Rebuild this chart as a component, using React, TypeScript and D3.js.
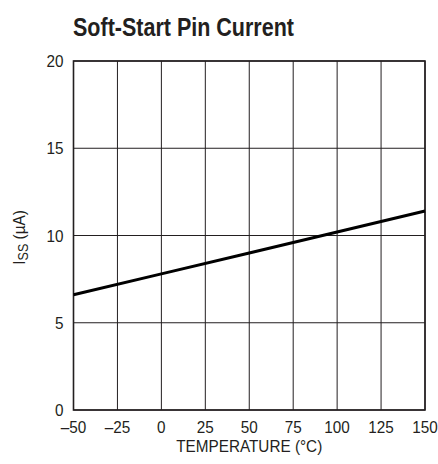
import * as d3 from 'd3';
import { useEffect, useRef } from 'react';

// Temperature (°C) vs soft-start pin current (µA)
const temperatures = [-50, 0, 50, 100, 150];
const currents = [6.6, 7.8, 9.0, 10.2, 11.4];

const xTicks = [-50, -25, 0, 25, 50, 75, 100, 125, 150];
const yTicks = [0, 5, 10, 15, 20];

const FONT = '"Liberation Sans", Arial, Helvetica, sans-serif';
const INK = '#231f20';
const SQUEEZE = 0.9; // mimic the condensed face of the original

export default function App() {
  const svgRef = useRef<SVGSVGElement>(null);

  useEffect(() => {
    if (!svgRef.current) return;
    const root = d3.select(svgRef.current);
    root.selectAll('*').remove();

    const margin = { top: 61, right: 13, bottom: 54, left: 73.5 };
    const width = 438 - margin.left - margin.right;
    const height = 464 - margin.top - margin.bottom;

    const x = d3.scaleLinear().domain([-50, 150]).range([0, width]);
    const y = d3.scaleLinear().domain([0, 20]).range([height, 0]);

    // Title
    root
      .append('text')
      .attr('x', 73)
      .attr('y', 36)
      .attr('textLength', 221)
      .attr('lengthAdjust', 'spacingAndGlyphs')
      .style('font-family', FONT)
      .style('font-weight', 'bold')
      .style('font-size', '26px')
      .attr('fill', INK)
      .text('Soft-Start Pin Current');

    const g = root.append('g').attr('transform', `translate(${margin.left},${margin.top})`);

    // Grid
    g.selectAll('.vgrid')
      .data(xTicks)
      .enter()
      .append('line')
      .attr('x1', (d) => x(d))
      .attr('x2', (d) => x(d))
      .attr('y1', 0)
      .attr('y2', height)
      .attr('stroke', INK)
      .attr('stroke-width', 1);

    g.selectAll('.hgrid')
      .data(yTicks)
      .enter()
      .append('line')
      .attr('x1', 0)
      .attr('x2', width)
      .attr('y1', (d) => y(d))
      .attr('y2', (d) => y(d))
      .attr('stroke', INK)
      .attr('stroke-width', 1);

    // Frame
    g.append('rect')
      .attr('width', width)
      .attr('height', height)
      .attr('fill', 'none')
      .attr('stroke', INK)
      .attr('stroke-width', 1.6);

    // X tick labels
    g.selectAll('.xlab')
      .data(xTicks)
      .enter()
      .append('text')
      .attr('transform', (d) => `translate(${x(d)},${height + 23}) scale(${SQUEEZE},1)`)
      .attr('text-anchor', 'middle')
      .style('font-family', FONT)
      .style('font-size', '17px')
      .attr('fill', INK)
      .text((d) => (d < 0 ? `\u2013${-d}` : `${d}`));

    // Y tick labels
    g.selectAll('.ylab')
      .data(yTicks)
      .enter()
      .append('text')
      .attr('transform', (d) => `translate(-10,${y(d) + 6}) scale(${SQUEEZE},1)`)
      .attr('text-anchor', 'end')
      .style('font-family', FONT)
      .style('font-size', '17px')
      .attr('fill', INK)
      .text((d) => `${d}`);

    // Axis titles
    g.append('text')
      .attr('transform', `translate(${width / 2},${height + 42}) scale(${SQUEEZE},1)`)
      .attr('text-anchor', 'middle')
      .style('font-family', FONT)
      .style('font-size', '17px')
      .attr('fill', INK)
      .text('TEMPERATURE (°C)');

    const yTitle = g
      .append('text')
      .attr('transform', `translate(-49,${height / 2 + 2}) rotate(-90) scale(${SQUEEZE},1)`)
      .attr('text-anchor', 'middle')
      .style('font-family', FONT)
      .style('font-size', '17px')
      .attr('fill', INK);
    yTitle.append('tspan').text('I');
    yTitle.append('tspan').attr('dy', 3).style('font-size', '14px').text('SS');
    yTitle.append('tspan').attr('dy', -3).text(' (µA)');

    // Data line
    const line = d3
      .line<number>()
      .x((_, i) => x(temperatures[i]))
      .y((d) => y(d));

    g.append('path')
      .datum(currents)
      .attr('fill', 'none')
      .attr('stroke', '#000')
      .attr('stroke-width', 3)
      .attr('d', line);
  }, []);

  return (
    <svg
      ref={svgRef}
      width={438}
      height={464}
      style={{ position: 'absolute', left: 0, top: 0, background: '#fff' }}
    />
  );
}
